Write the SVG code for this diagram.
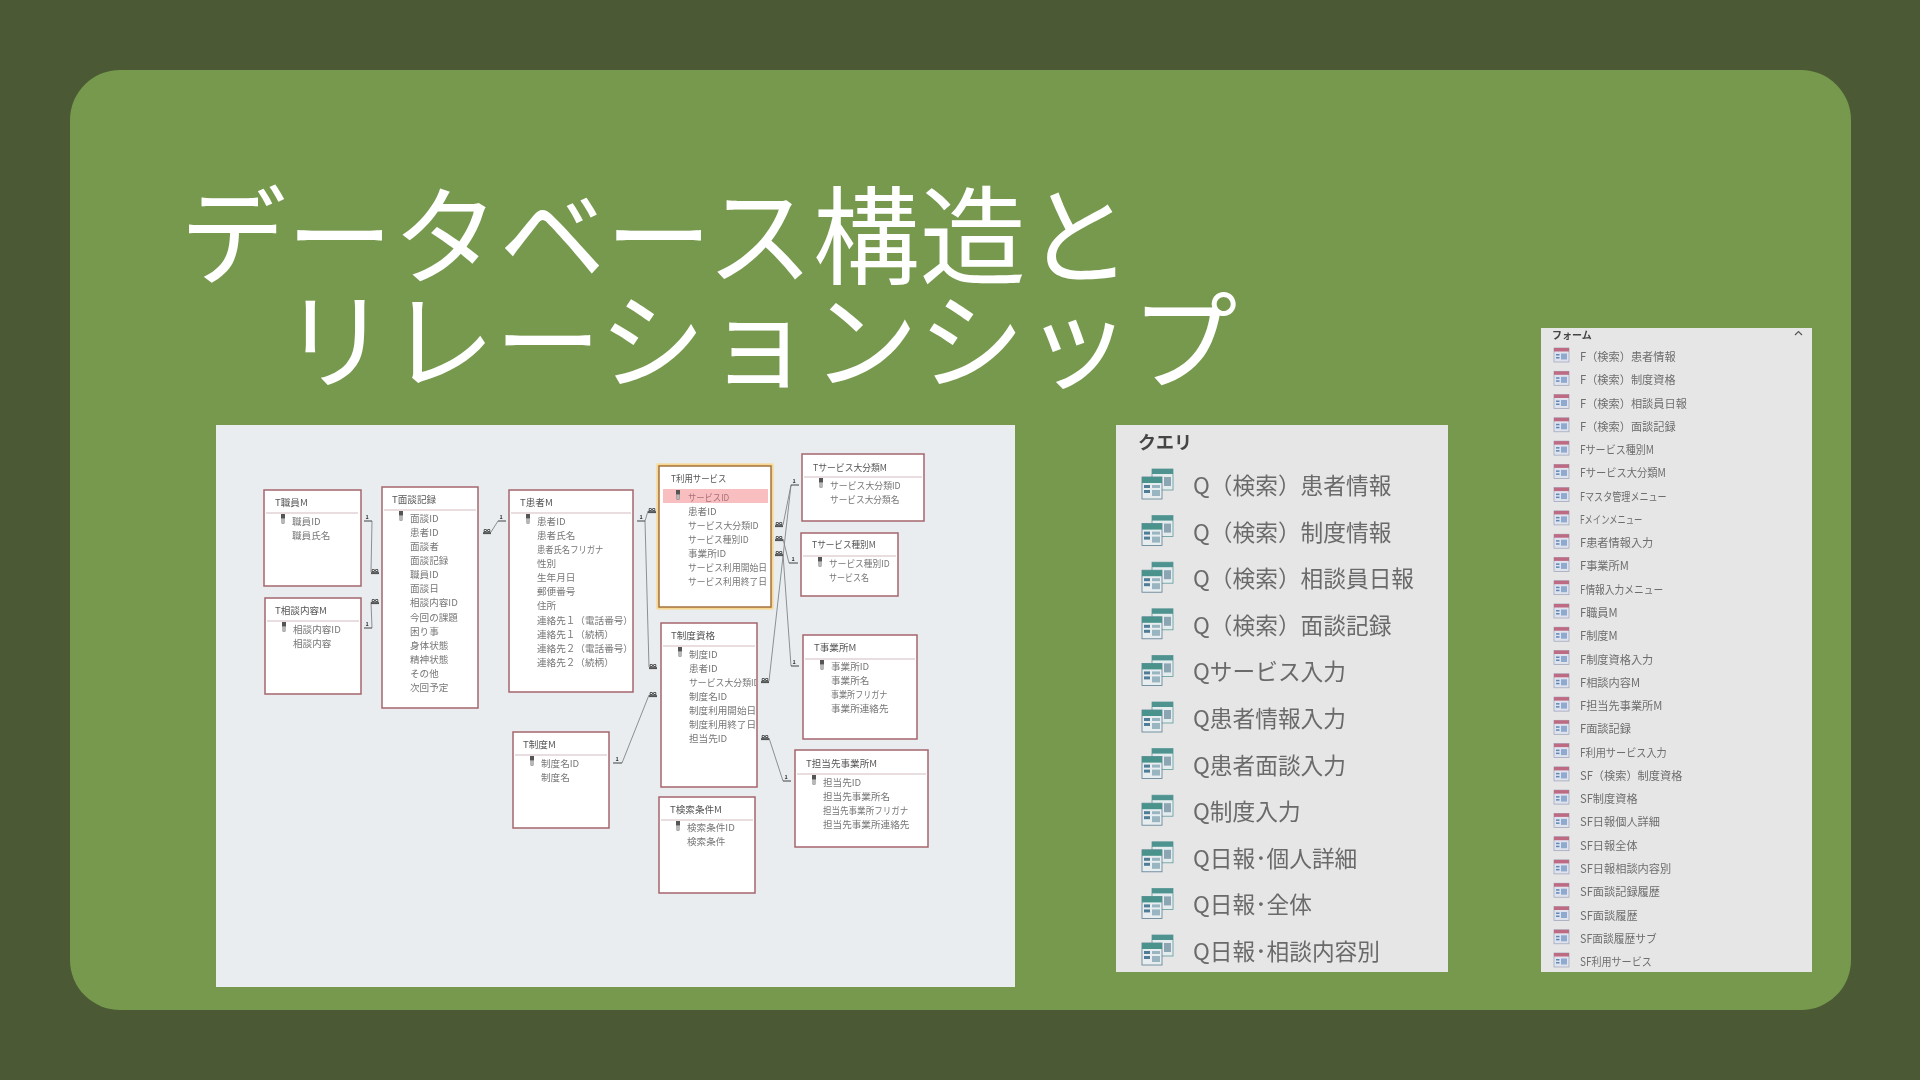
<svg xmlns="http://www.w3.org/2000/svg" width="1920" height="1080" viewBox="0 0 1920 1080">
<style>
text{font-family:"Noto Sans CJK JP","Noto Sans",sans-serif}
.title{font-size:106.4px;fill:#fff;font-weight:400}
.box{fill:#fff;stroke:#a5656d;stroke-width:1.5}
.div{stroke:#d3bcbf;stroke-width:1}
.th{font-size:9.6px;fill:#555}
.tr{font-size:9.6px;fill:#777}
.con{fill:none;stroke:#808488;stroke-width:.9}
.stub{fill:none;stroke:#444;stroke-width:1.2}
.bar{fill:none;stroke:#444;stroke-width:1}
.one{font-size:5.5px;fill:#333;text-anchor:middle;font-weight:700}
.m{font-size:7px;fill:#333;text-anchor:middle;font-weight:700}
.q{font-size:22.7px;fill:#6a6a6a}
.f{font-size:11.2px;fill:#6e6e6e}
</style>
<defs>
<filter id="s" x="-2%" y="-2%" width="104%" height="104%"><feGaussianBlur stdDeviation="0.4"/></filter>
<filter id="s2" x="-2%" y="-2%" width="104%" height="104%"><feGaussianBlur stdDeviation="0.6"/></filter>
<filter id="g" x="-10%" y="-10%" width="120%" height="120%"><feGaussianBlur stdDeviation="1.2"/></filter>
<g id="key"><rect x="-2" y="0" width="4" height="4.5" fill="#555"/><rect x="-1.2" y="4.5" width="2.4" height="5" fill="#bbb" stroke="#777" stroke-width=".5"/></g>
<g id="qi">
<rect x="10" y="0" width="21" height="21" fill="#e4ecee" stroke="#5f9a9a" stroke-width=".8"/><rect x="10" y="0" width="21" height="5" fill="#4f9391"/>
<rect x="22" y="8" width="7" height="9" fill="#8ba5b3"/>
<rect x="0" y="8" width="20" height="22" fill="#e8eef0" stroke="#5b7b90" stroke-width=".8"/><rect x="0" y="8" width="20" height="6" fill="#4a938c"/>
<rect x="2" y="16" width="6" height="3" fill="#4f7c96"/><rect x="10" y="16" width="8" height="3" fill="#9ab5c2"/><rect x="2" y="21" width="6" height="3" fill="#4f7c96"/><rect x="10" y="21" width="8" height="6" fill="#9ab5c2"/>
</g>
<g id="fi">
<rect x="0" y="0" width="15" height="14" fill="#dfe3ee" stroke="#9aa0b6" stroke-width=".7"/><rect x="0" y="0" width="15" height="3.5" fill="#bd6a82"/>
<rect x="2" y="6" width="3.500" height="1.500" fill="#5c88b8"/><rect x="2" y="9" width="3.500" height="1.500" fill="#5c88b8"/><rect x="7" y="5.500" width="6" height="6" fill="#8fa9cf"/>
</g>
<clipPath id="clipSeido"><rect x="661" y="623" width="95" height="164"/></clipPath>
</defs>
<rect width="1920" height="1080" fill="#4b5a34"/>
<rect x="70" y="70" width="1781" height="940" rx="50" fill="#76994d"/>
<text class="title" x="180" y="276">データベース構造と</text>
<text class="title" x="282" y="381">リレーションシップ</text>

<rect x="216" y="425" width="799" height="562" fill="#e9edf0"/>

<g id="connectors" filter="url(#s)">
<path class="con" d="M372 521L371 572M372 628L371 602M491 532L498 521M645 521L648 511M645 521L649 667M622 763L649 695M783 525L791 485M769 681L791 485M783 539L789 563M783 554L791 666M769 738L783 781"/>
<path class="stub" d="M364 521H372M364 628H372M498 521H506M637 521H645M613 763H622M791 485H799M789 563H798M791 666H799M783 781H791"/>
<path class="bar" d="M371 572.300H379M371 573.600H379M371 602.300H379M371 603.600H379M483 532.300H491M483 533.600H491M648 511.300H656M648 512.600H656M649 667.300H657M649 668.600H657M649 695.300H657M649 696.600H657M775 525.300H783M775 526.600H783M775 539.300H783M775 540.600H783M775 554.300H783M775 555.600H783M761 681.300H769M761 682.600H769M761 738.300H769M761 739.600H769"/>
<text class="one" x="367" y="519">1</text><text class="one" x="367" y="626">1</text><text class="one" x="501" y="519">1</text><text class="one" x="641" y="519">1</text><text class="one" x="617" y="761">1</text><text class="one" x="794" y="483">1</text><text class="one" x="793" y="561">1</text><text class="one" x="794" y="664">1</text><text class="one" x="786" y="779">1</text>
<text class="m" x="375" y="572.500">∞</text><text class="m" x="375" y="602.500">∞</text><text class="m" x="487" y="532.500">∞</text><text class="m" x="652" y="511.500">∞</text><text class="m" x="653" y="667.500">∞</text><text class="m" x="653" y="695.500">∞</text><text class="m" x="779" y="525.500">∞</text><text class="m" x="779" y="539.500">∞</text><text class="m" x="779" y="554.500">∞</text><text class="m" x="765" y="681.500">∞</text><text class="m" x="765" y="738.500">∞</text>
</g>

<g id="t-shokuin" filter="url(#s)"><rect class="box" x="264" y="490" width="97" height="96"/><text class="th" x="275" y="506">T職員M</text><line class="div" x1="266" y1="513" x2="358" y2="513"/><use href="#key" x="283" y="514"/>
<text class="tr" x="292" y="525">職員ID</text><text class="tr" x="292" y="539">職員氏名</text></g>

<g id="t-soudan" filter="url(#s)"><rect class="box" x="265" y="598" width="96" height="96"/><text class="th" x="275" y="614">T相談内容M</text><line class="div" x1="267" y1="621" x2="359" y2="621"/><use href="#key" x="284" y="622"/>
<text class="tr" x="293" y="633">相談内容ID</text><text class="tr" x="293" y="647">相談内容</text></g>

<g id="t-mendan" filter="url(#s)"><rect class="box" x="382" y="487" width="96" height="221"/><text class="th" x="392" y="503">T面談記録</text><line class="div" x1="384" y1="510" x2="476" y2="510"/><use href="#key" x="401" y="511"/>
<g transform="translate(410 522)"><text class="tr" y="0">面談ID</text><text class="tr" y="14.1">患者ID</text><text class="tr" y="28.1">面談者</text><text class="tr" y="42.2">面談記録</text><text class="tr" y="56.3">職員ID</text><text class="tr" y="70.4">面談日</text><text class="tr" y="84.4">相談内容ID</text><text class="tr" y="98.5">今回の課題</text><text class="tr" y="112.6">困り事</text><text class="tr" y="126.7">身体状態</text><text class="tr" y="140.7">精神状態</text><text class="tr" y="154.8">その他</text><text class="tr" y="168.9">次回予定</text></g></g>

<g id="t-kanja" filter="url(#s)"><rect class="box" x="509" y="490" width="124" height="202"/><text class="th" x="520" y="506">T患者M</text><line class="div" x1="511" y1="513" x2="631" y2="513"/><use href="#key" x="528" y="514"/>
<g transform="translate(537 525)"><text class="tr" y="0">患者ID</text><text class="tr" y="14.1">患者氏名</text><text class="tr" y="28.1" textLength="66.3" lengthAdjust="spacingAndGlyphs">患者氏名フリガナ</text><text class="tr" y="42.2">性別</text><text class="tr" y="56.3">生年月日</text><text class="tr" y="70.4">郵便番号</text><text class="tr" y="84.4">住所</text><text class="tr" y="98.5">連絡先１（電話番号）</text><text class="tr" y="112.6">連絡先１（続柄）</text><text class="tr" y="126.7">連絡先２（電話番号）</text><text class="tr" y="140.7">連絡先２（続柄）</text></g></g>

<g id="t-riyou" filter="url(#s)"><rect x="659" y="466" width="112" height="141" fill="none" stroke="#fcd27a" stroke-width="5" filter="url(#g)"/><rect x="659" y="466" width="112" height="141" fill="#fff" stroke="#a3743f" stroke-width="1.5"/><text class="th" x="671" y="482" textLength="55.3" lengthAdjust="spacingAndGlyphs">T利用サービス</text><rect x="663" y="489" width="105" height="14" fill="#f9bfc0"/><use href="#key" x="678" y="490"/>
<g transform="translate(688 501)"><text class="tr" y="0" style="fill:#a8707a" textLength="41.3" lengthAdjust="spacingAndGlyphs">サービスID</text><text class="tr" y="14.1">患者ID</text><text class="tr" y="28.1" textLength="70.7" lengthAdjust="spacingAndGlyphs">サービス大分類ID</text><text class="tr" y="42.2" textLength="60.7" lengthAdjust="spacingAndGlyphs">サービス種別ID</text><text class="tr" y="56.3">事業所ID</text><text class="tr" y="70.4" textLength="79" lengthAdjust="spacingAndGlyphs">サービス利用開始日</text><text class="tr" y="84.4" textLength="79" lengthAdjust="spacingAndGlyphs">サービス利用終了日</text></g></g>

<g id="t-daibunrui" filter="url(#s)"><rect class="box" x="802" y="454" width="122" height="67"/><text class="th" x="813" y="471" textLength="74" lengthAdjust="spacingAndGlyphs">Tサービス大分類M</text><line class="div" x1="804" y1="477" x2="922" y2="477"/><use href="#key" x="821" y="478"/>
<text class="tr" x="830" y="489" textLength="70.7" lengthAdjust="spacingAndGlyphs">サービス大分類ID</text><text class="tr" x="830" y="503" textLength="69.3" lengthAdjust="spacingAndGlyphs">サービス大分類名</text></g>

<g id="t-shubetsu" filter="url(#s)"><rect class="box" x="801" y="533" width="97" height="63"/><text class="th" x="812" y="548" textLength="63.7" lengthAdjust="spacingAndGlyphs">Tサービス種別M</text><line class="div" x1="803" y1="556" x2="896" y2="556"/><use href="#key" x="820" y="557"/>
<text class="tr" x="829" y="567" textLength="60.7" lengthAdjust="spacingAndGlyphs">サービス種別ID</text><text class="tr" x="829" y="581" textLength="40" lengthAdjust="spacingAndGlyphs">サービス名</text></g>

<g id="t-seidoshikaku" filter="url(#s)"><rect class="box" x="661" y="623" width="96" height="164"/><text class="th" x="671" y="639">T制度資格</text><line class="div" x1="663" y1="646" x2="755" y2="646"/><use href="#key" x="680" y="647"/>
<g clip-path="url(#clipSeido)"><text class="tr" x="689" y="658">制度ID</text><text class="tr" x="689" y="672.1">患者ID</text><text class="tr" x="689" y="686.1" textLength="70.7" lengthAdjust="spacingAndGlyphs">サービス大分類ID</text><text class="tr" x="689" y="700.2">制度名ID</text><text class="tr" x="689" y="714.3">制度利用開始日</text><text class="tr" x="689" y="728.4">制度利用終了日</text><text class="tr" x="689" y="742.4">担当先ID</text></g></g>

<g id="t-jigyousho" filter="url(#s)"><rect class="box" x="803" y="635" width="114" height="104"/><text class="th" x="814" y="651">T事業所M</text><line class="div" x1="805" y1="659" x2="915" y2="659"/><use href="#key" x="822" y="660"/>
<text class="tr" x="831" y="670">事業所ID</text><text class="tr" x="831" y="684.1">事業所名</text><text class="tr" x="831" y="698.1" textLength="56.3" lengthAdjust="spacingAndGlyphs">事業所フリガナ</text><text class="tr" x="831" y="712.2">事業所連絡先</text></g>

<g id="t-tantou" filter="url(#s)"><rect class="box" x="795" y="750" width="133" height="97"/><text class="th" x="806" y="767">T担当先事業所M</text><line class="div" x1="797" y1="774" x2="926" y2="774"/><use href="#key" x="814" y="775"/>
<text class="tr" x="823" y="786">担当先ID</text><text class="tr" x="823" y="800.1">担当先事業所名</text><text class="tr" x="823" y="814.1" textLength="85.3" lengthAdjust="spacingAndGlyphs">担当先事業所フリガナ</text><text class="tr" x="823" y="828.2">担当先事業所連絡先</text></g>

<g id="t-seido" filter="url(#s)"><rect class="box" x="513" y="732" width="96" height="96"/><text class="th" x="523" y="748">T制度M</text><line class="div" x1="515" y1="755" x2="607" y2="755"/><use href="#key" x="532" y="756"/>
<text class="tr" x="541" y="767">制度名ID</text><text class="tr" x="541" y="781">制度名</text></g>

<g id="t-kensaku" filter="url(#s)"><rect class="box" x="659" y="797" width="96" height="96"/><text class="th" x="670" y="813">T検索条件M</text><line class="div" x1="661" y1="820" x2="753" y2="820"/><use href="#key" x="678" y="821"/>
<text class="tr" x="687" y="831">検索条件ID</text><text class="tr" x="687" y="845">検索条件</text></g>

<g id="query-panel"><rect x="1116" y="425" width="332" height="547" fill="#e6e6e6"/>
<g filter="url(#s2)">
<text x="1138" y="449" font-size="18" font-weight="700" fill="#444">クエリ</text>
<use href="#qi" x="1142" y="469"/><text class="q" x="1193" y="494">Q（検索）患者情報</text>
<use href="#qi" x="1142" y="515.6"/><text class="q" x="1193" y="540.6">Q（検索）制度情報</text>
<use href="#qi" x="1142" y="562.2"/><text class="q" x="1193" y="587.2">Q（検索）相談員日報</text>
<use href="#qi" x="1142" y="608.8"/><text class="q" x="1193" y="633.8">Q（検索）面談記録</text>
<use href="#qi" x="1142" y="655.4"/><text class="q" x="1193" y="680.4">Qサービス入力</text>
<use href="#qi" x="1142" y="702"/><text class="q" x="1193" y="727">Q患者情報入力</text>
<use href="#qi" x="1142" y="748.6"/><text class="q" x="1193" y="773.6">Q患者面談入力</text>
<use href="#qi" x="1142" y="795.2"/><text class="q" x="1193" y="820.2">Q制度入力</text>
<use href="#qi" x="1142" y="841.8"/><text class="q" x="1193" y="866.8">Q日報･個人詳細</text>
<use href="#qi" x="1142" y="888.4"/><text class="q" x="1193" y="913.4">Q日報･全体</text>
<use href="#qi" x="1142" y="935"/><text class="q" x="1193" y="960">Q日報･相談内容別</text>
</g></g>

<g id="form-panel"><rect x="1541" y="328" width="271" height="644" fill="#e6e6e6"/>
<g filter="url(#s)">
<text x="1552" y="339" font-size="10" font-weight="700" fill="#444">フォーム</text>
<path d="M1795 335L1798.500 331.500L1802 335" fill="none" stroke="#555" stroke-width="1.2"/>
<use href="#fi" x="1554" y="348"/><text class="f" x="1580" y="361">F（検索）患者情報</text>
<use href="#fi" x="1554" y="371.300"/><text class="f" x="1580" y="384.300">F（検索）制度資格</text>
<use href="#fi" x="1554" y="394.500"/><text class="f" x="1580" y="407.500">F（検索）相談員日報</text>
<use href="#fi" x="1554" y="417.800"/><text class="f" x="1580" y="430.800">F（検索）面談記録</text>
<use href="#fi" x="1554" y="441.100"/><text class="f" x="1580" y="454.100" textLength="74" lengthAdjust="spacingAndGlyphs">Fサービス種別M</text>
<use href="#fi" x="1554" y="464.400"/><text class="f" x="1580" y="477.400" textLength="85.7" lengthAdjust="spacingAndGlyphs">Fサービス大分類M</text>
<use href="#fi" x="1554" y="487.600"/><text class="f" x="1580" y="500.600" textLength="86.7" lengthAdjust="spacingAndGlyphs">Fマスタ管理メニュー</text>
<use href="#fi" x="1554" y="510.900"/><text class="f" x="1580" y="523.900" textLength="62.3" lengthAdjust="spacingAndGlyphs">Fメインメニュー</text>
<use href="#fi" x="1554" y="534.200"/><text class="f" x="1580" y="547.200">F患者情報入力</text>
<use href="#fi" x="1554" y="557.400"/><text class="f" x="1580" y="570.400">F事業所M</text>
<use href="#fi" x="1554" y="580.700"/><text class="f" x="1580" y="593.700" textLength="83.3" lengthAdjust="spacingAndGlyphs">F情報入力メニュー</text>
<use href="#fi" x="1554" y="604"/><text class="f" x="1580" y="617">F職員M</text>
<use href="#fi" x="1554" y="627.200"/><text class="f" x="1580" y="640.200">F制度M</text>
<use href="#fi" x="1554" y="650.500"/><text class="f" x="1580" y="663.500">F制度資格入力</text>
<use href="#fi" x="1554" y="673.800"/><text class="f" x="1580" y="686.800">F相談内容M</text>
<use href="#fi" x="1554" y="697.100"/><text class="f" x="1580" y="710.100">F担当先事業所M</text>
<use href="#fi" x="1554" y="720.300"/><text class="f" x="1580" y="733.300">F面談記録</text>
<use href="#fi" x="1554" y="743.600"/><text class="f" x="1580" y="756.600" textLength="86.7" lengthAdjust="spacingAndGlyphs">F利用サービス入力</text>
<use href="#fi" x="1554" y="766.900"/><text class="f" x="1580" y="779.900">SF（検索）制度資格</text>
<use href="#fi" x="1554" y="790.100"/><text class="f" x="1580" y="803.100">SF制度資格</text>
<use href="#fi" x="1554" y="813.400"/><text class="f" x="1580" y="826.400">SF日報個人詳細</text>
<use href="#fi" x="1554" y="836.700"/><text class="f" x="1580" y="849.700">SF日報全体</text>
<use href="#fi" x="1554" y="859.900"/><text class="f" x="1580" y="872.900">SF日報相談内容別</text>
<use href="#fi" x="1554" y="883.200"/><text class="f" x="1580" y="896.200">SF面談記録履歴</text>
<use href="#fi" x="1554" y="906.500"/><text class="f" x="1580" y="919.500">SF面談履歴</text>
<use href="#fi" x="1554" y="929.800"/><text class="f" x="1580" y="942.800" textLength="76.7" lengthAdjust="spacingAndGlyphs">SF面談履歴サブ</text>
<use href="#fi" x="1554" y="953"/><text class="f" x="1580" y="966" textLength="71.7" lengthAdjust="spacingAndGlyphs">SF利用サービス</text>
</g></g>
</svg>
